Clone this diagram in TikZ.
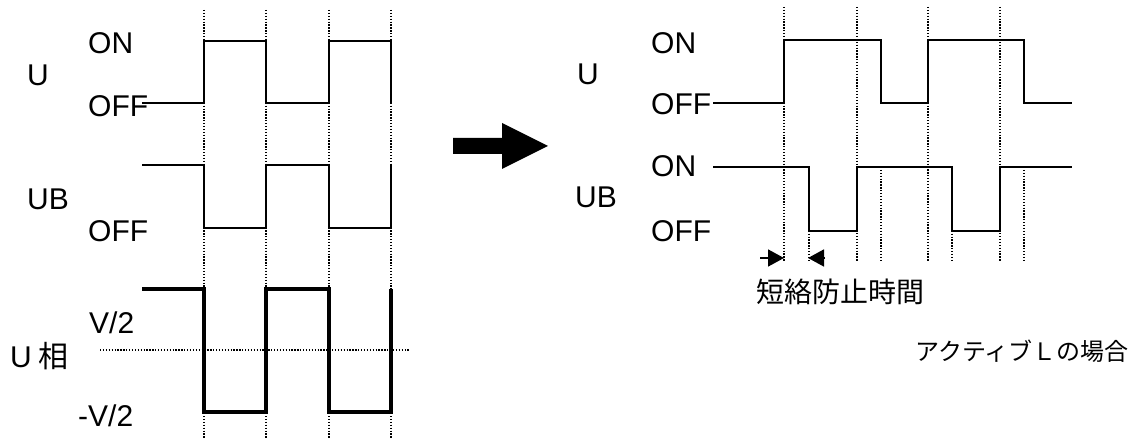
\documentclass[tikz,border=0pt]{standalone}
\usepackage{fontspec}
\setmainfont{Liberation Sans}
\newfontfamily\jpfont{Noto Sans CJK JP}
\usetikzlibrary{arrows.meta}
\tikzset{
  lbl/.style={anchor=base west, inner sep=0pt, font=\fontsize{30bp}{30bp}\selectfont},
  grid/.style={line width=1.3bp, dash pattern=on 1.3bp off 1.6bp},
  sig/.style={line width=2bp, line join=miter},
  thicksig/.style={line width=4bp, line join=miter},
  gap/.style={line width=1.6bp, -{Triangle[length=16bp,width=17bp]}},
}
\begin{document}
\begin{tikzpicture}[x=1bp,y=-1bp]
\useasboundingbox (0,0) rectangle (1146,439);
% ---------- left panel ----------
\foreach \x in {204,266,329,391} \draw[grid] (\x,10) -- (\x,439);
\draw[grid] (100,350) -- (410,350);
\draw[sig] (142,103) -- (204,103) -- (204,41) -- (266,41) -- (266,103) -- (329,103) -- (329,41) -- (391,41) -- (391,103);
\draw[sig] (142,165) -- (204,165) -- (204,228) -- (266,228) -- (266,165) -- (329,165) -- (329,228) -- (391,228) -- (391,165);
\draw[thicksig] (142,289) -- (204,289) -- (204,412) -- (266,412) -- (266,289) -- (329,289) -- (329,412) -- (391,412) -- (391,289);
\node[lbl] (lU) at (27,86) {U};
\node[lbl] (lUon) at (88,54) {ON};
\node[lbl] (lUoff) at (88,117) {OFF};
\node[lbl] (lUB) at (27,210) {UB};
\node[lbl] (lUBoff) at (88,242) {OFF};
\node[lbl] (lvp) at (89,334) {V/2};
\node[lbl] (lph) at (10,368) {U\hspace{7bp}{\jpfont 相}};
\node[lbl] (lvm) at (78,427) {-V/2};
% ---------- big arrow ----------
\fill (453,138) -- (502,138) -- (502,123) -- (548,146) -- (502,169) -- (502,154) -- (453,154) -- cycle;
% ---------- right panel ----------
\foreach \x in {784,857,928,1000} \draw[grid] (\x,7) -- (\x,262);
\foreach \x in {809,881,952,1024} \draw[grid] (\x,167) -- (\x,262);
\draw[sig] (713,103) -- (784,103) -- (784,40) -- (881,40) -- (881,103) -- (928,103) -- (928,40) -- (1024,40) -- (1024,103) -- (1072,103);
\draw[sig] (713,167) -- (809,167) -- (809,231) -- (857,231) -- (857,167) -- (952,167) -- (952,231) -- (1000,231) -- (1000,167) -- (1072,167);
\node[lbl] (rU) at (577,85) {U};
\node[lbl] (rUon) at (651,54) {ON};
\node[lbl] (rUoff) at (651,115) {OFF};
\node[lbl] (rUBon) at (651,177) {ON};
\node[lbl] (rUB) at (575,208) {UB};
\node[lbl] (rUBoff) at (651,242) {OFF};
\coordinate (a1s) at (760,258);
\coordinate (a1e) at (784,258);
\coordinate (a2s) at (825,258);
\coordinate (a2e) at (808,258);
\draw[gap] (a1s) -- (a1e);
\draw[gap] (a2s) -- (a2e);
\node[inner sep=0pt, font=\jpfont\fontsize{28bp}{28bp}\selectfont] (tdead) at (840,292) {短絡防止時間};
\node[inner sep=0pt, font=\jpfont\fontsize{24bp}{24bp}\selectfont] (tact) at (1022,351) {アクティブＬの場合};
\end{tikzpicture}
\end{document}
